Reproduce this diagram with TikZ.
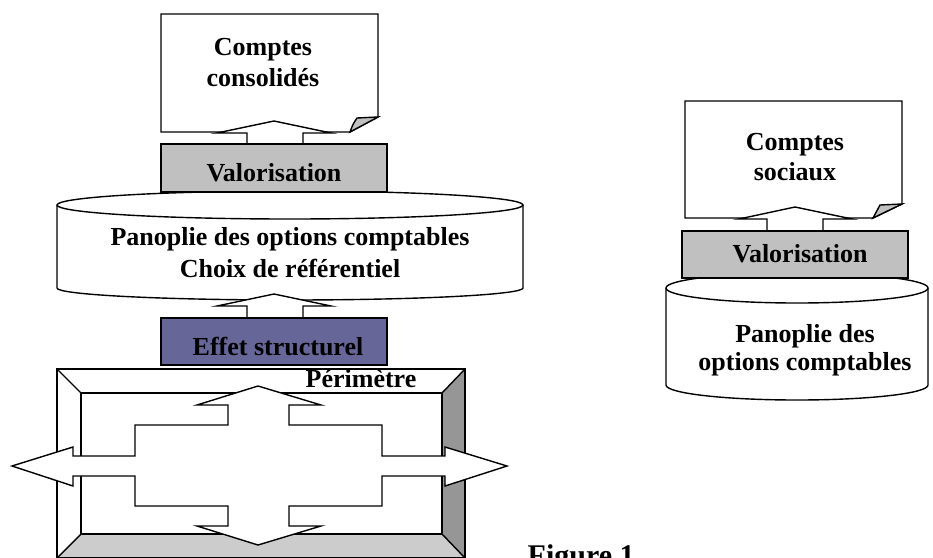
\documentclass[tikz,border=0pt]{standalone}
\usepackage{fontspec}
\setmainfont{Liberation Serif}
\begin{document}
\begin{tikzpicture}[x=1pt,y=-1pt,line width=1.4pt,line join=miter,
  lbl/.style={font=\fontsize{26}{30}\selectfont\bfseries,inner sep=0pt,align=center},
  shp/.style={draw=black,fill=white},
  valo/.style={draw=black,fill=gray75},
]
\definecolor{gray75}{HTML}{C0C0C0}
\definecolor{struct}{HTML}{666699}
\definecolor{bevdark}{HTML}{969696}
\definecolor{bevlight}{HTML}{CCCCCC}
\useasboundingbox (0,0) rectangle (933,557);
\clip (0,0) rectangle (933,557);

% ---------- left: document "Comptes consolidés"
\draw[shp] (161,14) -- (378,14) -- (378,117) -- (350,132) -- (161,132) -- cycle;
\draw[fill=gray75] (350,132) .. controls (353,124) .. (357,118) -- (378,117) -- cycle;
\node[lbl,anchor=base] (cc1) at (263,55) {Comptes};
\node[lbl,anchor=base] (cc2) at (263,86) {consolidés};

% ---------- left: big cylinder
\draw[shp] (57,205) -- (57,288) arc[start angle=180,end angle=0,x radius=233,y radius=12] -- (523,205);
\draw[shp] (290,205) ellipse[x radius=233,y radius=14];
\node[lbl,anchor=base] (pan1) at (290,245) {Panoplie des options comptables};
\node[lbl,anchor=base] (pan2) at (290,277) {Choix de référentiel};

% arrow valorisation -> document
\draw[shp] (274,121) -- (331,133) -- (303,133) -- (303,146) -- (247,146) -- (247,133) -- (217,133) -- cycle;
\draw[valo] (161,144) rectangle (387,192);
\node[lbl,anchor=base] (val1) at (274,181) {Valorisation};

% arrow effet structurel -> cylinder
\draw[shp] (274,294) -- (331,306) -- (303,306) -- (303,320) -- (247,320) -- (247,306) -- (217,306) -- cycle;
\draw[draw=black,fill=struct] (161,318) rectangle (387,365);
\node[lbl,anchor=base] (eff) at (278,355) {Effet structurel};

% ---------- perimeter bevel frame
\fill[white] (57,369) -- (465,369) -- (442,393) -- (81,393) -- cycle;
\fill[white] (57,369) -- (81,393) -- (81,534) -- (57,558) -- cycle;
\fill[bevdark] (465,369) -- (442,393) -- (442,534) -- (465,558) -- cycle;
\fill[bevlight] (81,534) -- (442,534) -- (465,558) -- (57,558) -- cycle;
\draw (57,369) rectangle (465,558);
\draw (81,393) rectangle (442,534);
\draw (57,369) -- (81,393) (465,369) -- (442,393) (81,534) -- (57,558) (442,534) -- (465,558);
\node[lbl,anchor=base] (peri) at (361,387) {Périmètre};

% quad arrow
\draw[shp] (258,386) -- (321,405) -- (289,405) -- (289,425) -- (382,425) -- (382,456)
  -- (445,456) -- (445,447) -- (507,466) -- (445,486) -- (445,476) -- (382,476)
  -- (382,506) -- (289,506) -- (289,526) -- (321,526) -- (258,545) -- (197,526)
  -- (228,526) -- (228,506) -- (135,506) -- (135,476) -- (73,476) -- (73,486)
  -- (12,466) -- (73,447) -- (73,456) -- (135,456) -- (135,425) -- (228,425)
  -- (228,405) -- (197,405) -- cycle;

% ---------- right: document "Comptes sociaux"
\draw[shp] (685,101) -- (902,101) -- (902,204) -- (873,218) -- (685,218) -- cycle;
\draw[fill=gray75] (873,218) .. controls (876,211) .. (880,205) -- (902,204) -- cycle;
\node[lbl,anchor=base] (cs1) at (795,150) {Comptes};
\node[lbl,anchor=base] (cs2) at (795,180) {sociaux};

% right cylinder
\draw[shp] (666,288) -- (666,385) arc[start angle=180,end angle=0,x radius=131,y radius=15] -- (928,288);
\draw[shp] (797,288) ellipse[x radius=131,y radius=15];
\node[lbl,anchor=base] (rp1) at (805,342) {Panoplie des};
\node[lbl,anchor=base] (rp2) at (805,370) {options comptables};

% right arrow + valorisation
\draw[shp] (795,207) -- (852,219) -- (823,219) -- (823,233) -- (767,233) -- (767,219) -- (739,219) -- cycle;
\draw[valo] (682,231) rectangle (908,278);
\node[lbl,anchor=base] (val2) at (800,262) {Valorisation};

% caption
\node[font=\fontsize{30}{34}\selectfont\bfseries,inner sep=0pt,anchor=base west] (fig) at (527,565) {Figure 1};
\end{tikzpicture}
\end{document}
